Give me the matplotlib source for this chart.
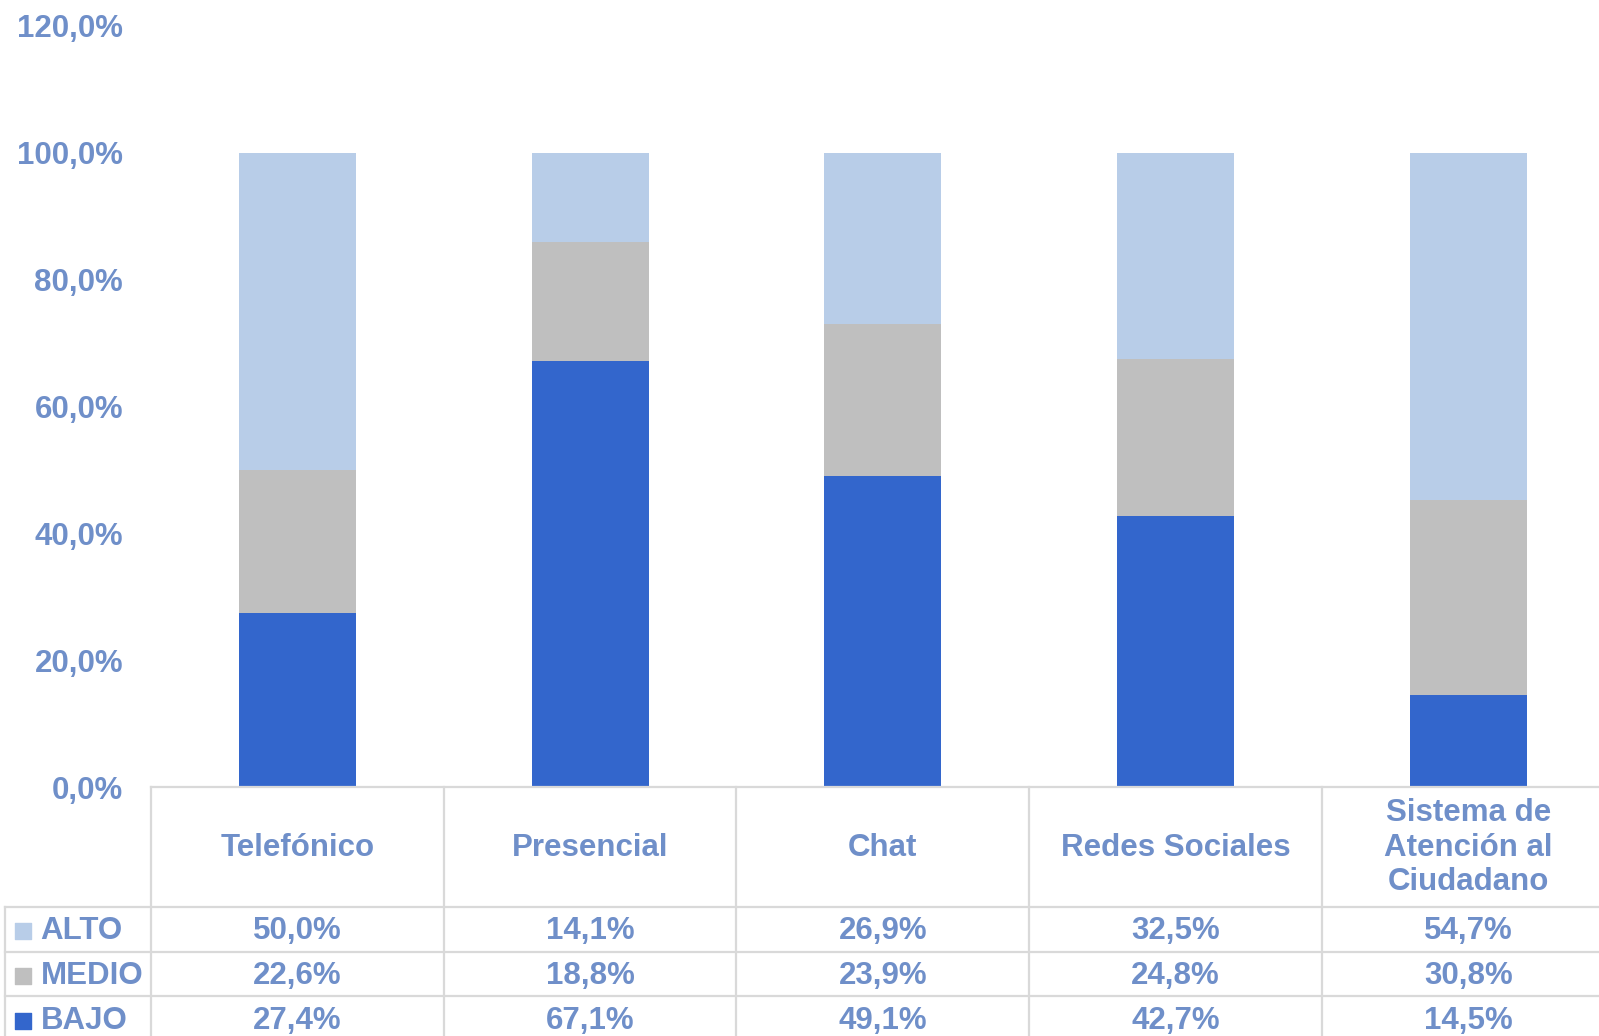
import matplotlib
matplotlib.use("Agg")
import matplotlib.pyplot as plt
import numpy as np

plt.rcParams['font.family'] = ['Liberation Sans', 'DejaVu Sans']
plt.rcParams['font.weight'] = 'bold'

categories = ["Telefónico", "Presencial", "Chat", "Redes Sociales",
              "Sistema de\nAtención al\nCiudadano"]
alto = [50.0, 14.1, 26.9, 32.5, 54.7]
medio = [22.6, 18.8, 23.9, 24.8, 30.8]
bajo = [27.4, 67.1, 49.1, 42.7, 14.5]
series_names = ["ALTO", "MEDIO", "BAJO"]

c_bajo = "#3366cc"
c_medio = "#bfbfbf"
c_alto = "#b8cde8"
text_col = "#6f8fc9"
line_col = "#d9d9d9"
fs = 22.5

W, H = 1599, 1036
fig = plt.figure(figsize=(W / 100, H / 100), dpi=100)

# chart area: 5 columns of ~292.7 px starting at x=151, the last one runs off the edge
x0, colw = 151, 292.7
y_zero, y_top = 787, 26
ax = fig.add_axes([x0 / W, (H - y_zero) / H, 5 * colw / W, (y_zero - y_top) / H])

x = np.arange(len(categories))
bw = 0.4
ax.bar(x, bajo, bw, color=c_bajo)
ax.bar(x, medio, bw, bottom=bajo, color=c_medio)
ax.bar(x, alto, bw, bottom=np.add(bajo, medio), color=c_alto)

ax.set_xlim(-0.5, len(categories) - 0.5)
ax.set_ylim(0, 120)
ax.set_yticks(np.arange(0, 121, 20))
ax.set_yticklabels([f"{v:.1f}%".replace(".", ",") for v in np.arange(0, 121, 20)],
                   fontsize=fs, fontweight='bold', color=text_col)
ax.tick_params(axis='y', length=0, pad=20)
ax.set_xticks([])
for s in ax.spines.values():
    s.set_visible(False)

# data table below the bars, y measured in pixels from the top of the figure
row_h = 44.9
header_bottom = 906.6
t_top, t_bot = y_zero - 5, H + 5
tab = fig.add_axes([x0 / W, (H - t_bot) / H, 5 * colw / W, (t_bot - t_top) / H])
tab.set_xlim(-0.5, len(categories) - 0.5)
tab.set_ylim(t_bot, t_top)
tab.axis('off')

lw = 1.6
# horizontal rules
tab.plot([-0.5, 4.5], [y_zero, y_zero], color=line_col, lw=lw, clip_on=False)
for k in range(3):
    yy = header_bottom + k * row_h
    tab.plot([-1.0, 4.5], [yy, yy], color=line_col, lw=lw, clip_on=False)
# vertical rules
for k in range(len(categories) + 1):
    tab.plot([k - 0.5, k - 0.5], [y_zero, H + 10], color=line_col, lw=lw, clip_on=False)
tab.plot([-1.0, -1.0], [header_bottom, H + 10], color=line_col, lw=lw, clip_on=False)

# column headers
for i, name in enumerate(categories):
    tab.text(i, (y_zero + header_bottom) / 2 + 1, name, ha='center', va='center',
             fontsize=fs, fontweight='bold', color=text_col, linespacing=1.2)

# value rows with legend keys
rows = [alto, medio, bajo]
colors = [c_alto, c_medio, c_bajo]
for r, (label, vals, col) in enumerate(zip(series_names, rows, colors)):
    yc = header_bottom + (r + 0.5) * row_h + 2
    tab.scatter([-0.936], [yc], marker='s', s=118, color=col, clip_on=False)
    tab.text(-0.877, yc, label, ha='left', va='center', fontsize=fs,
             fontweight='bold', color=text_col, clip_on=False)
    for i, v in enumerate(vals):
        tab.text(i, yc, f"{v:.1f}%".replace(".", ","), ha='center', va='center',
                 fontsize=fs, fontweight='bold', color=text_col)

fig.savefig("out.png", dpi=100)
